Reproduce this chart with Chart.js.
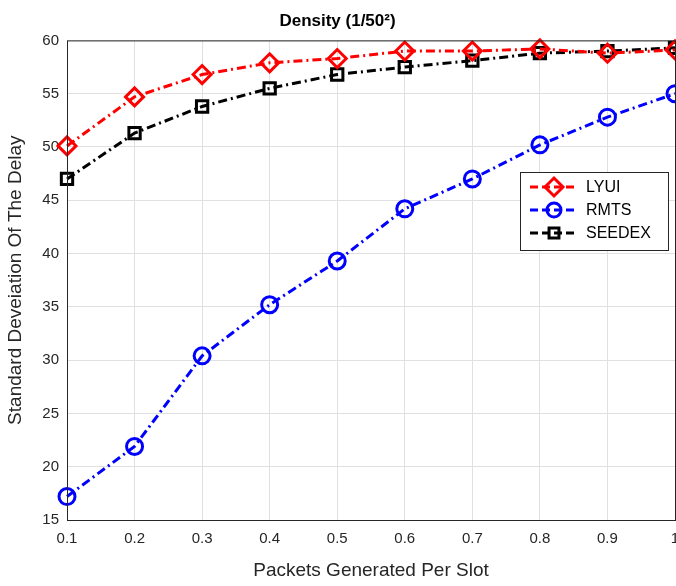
<!DOCTYPE html>
<html>
<head>
<meta charset="utf-8">
<script src="https://cdn.jsdelivr.net/npm/chart.js@4"></script>
<style>
  html, body { margin: 0; padding: 0; background: #fff; }
  #wrap { width: 676px; height: 586px; }
</style>
</head>
<body>
<div id="wrap"><canvas id="grafico"></canvas></div>
<script>
// dados
const packets = [0.1, 0.2, 0.3, 0.4, 0.5, 0.6, 0.7, 0.8, 0.9, 1.0];
const lyui   = [50.1, 54.7, 56.8, 57.9, 58.3, 59.0, 59.0, 59.2, 58.8, 59.1];
const rmts   = [17.2, 21.9, 30.4, 35.2, 39.3, 44.2, 47.0, 50.2, 52.8, 55.0];
const seedex = [47.0, 51.3, 53.8, 55.5, 56.8, 57.5, 58.1, 58.8, 59.0, 59.3];
const yTicks = [15, 20, 25, 30, 35, 40, 45, 50, 55, 60];

const fonte = "'Liberation Sans', Arial, sans-serif";
const tracejado = [9, 4, 2, 4];

function serie(label, valores, cor, estilo){
    return {
        label: label,
        data: packets.map((x, i) => ({ x: x, y: valores[i] })),
        borderColor: cor,
        backgroundColor: 'transparent',
        borderWidth: 3,
        borderDash: tracejado,
        pointStyle: estilo,
        pointRadius: estilo === 'rectRot' ? 9 : 8,
        pointBorderWidth: 3,
        pointBorderColor: cor,
        pointBackgroundColor: 'transparent',
        tension: 0,
        clip: false
    };
}

// caixa em volta da area do grafico + legenda dentro
const caixaPlugin = {
    id: 'caixa',
    afterDraw(chart){
        const ctx = chart.ctx;
        const a = chart.chartArea;
        ctx.save();
        ctx.strokeStyle = '#262626';
        ctx.lineWidth = 1;
        ctx.strokeRect(a.left + 0.5, a.top + 0.5, a.right - a.left, a.bottom - a.top);

        // legenda
        const lx = 520, ly = 172, lw = 148, lh = 78;
        ctx.fillStyle = '#fff';
        ctx.fillRect(lx, ly, lw, lh);
        ctx.strokeStyle = '#262626';
        ctx.strokeRect(lx + 0.5, ly + 0.5, lw, lh);
        ctx.font = '16px ' + fonte;
        ctx.textBaseline = 'middle';
        chart.data.datasets.forEach((ds, i) => {
            const y = ly + 15 + i * 23;
            ctx.strokeStyle = ds.borderColor;
            ctx.lineWidth = 3;
            ctx.setLineDash([8, 4]);
            ctx.beginPath();
            ctx.moveTo(lx + 10, y);
            ctx.lineTo(lx + 58, y);
            ctx.stroke();
            ctx.setLineDash([]);
            ctx.fillStyle = 'rgba(0,0,0,0)';
            Chart.helpers.drawPoint(ctx, {
                pointStyle: ds.pointStyle,
                radius: ds.pointStyle === 'rectRot' ? 9 : 7,
                borderWidth: 3,
                rotation: 0
            }, lx + 34, y);
            ctx.fillStyle = '#000';
            ctx.fillText(ds.label, lx + 66, y + 1);
        });
        ctx.restore();
    }
};

new Chart(document.querySelector('#grafico').getContext('2d'), {
    type: 'line',
    data: {
        datasets: [
            serie('LYUI', lyui, '#ff0000', 'rectRot'),
            serie('RMTS', rmts, '#0000ff', 'circle'),
            serie('SEEDEX', seedex, '#000000', 'rect')
        ]
    },
    options: {
        responsive: true,
        maintainAspectRatio: false,
        animation: false,
        layout: { autoPadding: false, padding: { left: 0, right: 1, top: 0, bottom: 0 } },
        plugins: {
            legend: { display: false },
            tooltip: { enabled: false },
            title: {
                display: true,
                text: 'Density (1/50²)',
                color: '#000',
                font: { family: fonte, size: 17, weight: 'bold' },
                padding: { top: 11, bottom: 9 }
            }
        },
        scales: {
            x: {
                type: 'linear',
                min: 0.1,
                max: 1,
                grid: { color: '#e0e0e0', drawTicks: false },
                border: { display: false },
                ticks: {
                    stepSize: 0.1,
                    padding: 10,
                    color: '#262626',
                    font: { family: fonte, size: 15 },
                    callback: v => String(+v.toFixed(1))
                },
                title: {
                    display: true,
                    text: 'Packets Generated Per Slot',
                    color: '#262626',
                    font: { family: fonte, size: 19 },
                    padding: { top: 6 }
                },
                afterFit(scale){
                    scale.height = 66;
                    scale.paddingLeft = 0;
                    scale.paddingRight = 0;
                }
            },
            y: {
                min: 15,
                max: 60,
                grid: { color: '#e0e0e0', drawTicks: false },
                border: { display: false },
                afterBuildTicks(scale){ scale.ticks = yTicks.map(v => ({ value: v })); },
                ticks: {
                    padding: 8,
                    color: '#262626',
                    font: { family: fonte, size: 15 }
                },
                title: {
                    display: true,
                    text: 'Standard Deveiation Of The Delay',
                    color: '#262626',
                    font: { family: fonte, size: 19 },
                    padding: { bottom: 4 }
                },
                afterFit(scale){ scale.width = 67; }
            }
        }
    },
    plugins: [caixaPlugin]
});
</script>
</body>
</html>
